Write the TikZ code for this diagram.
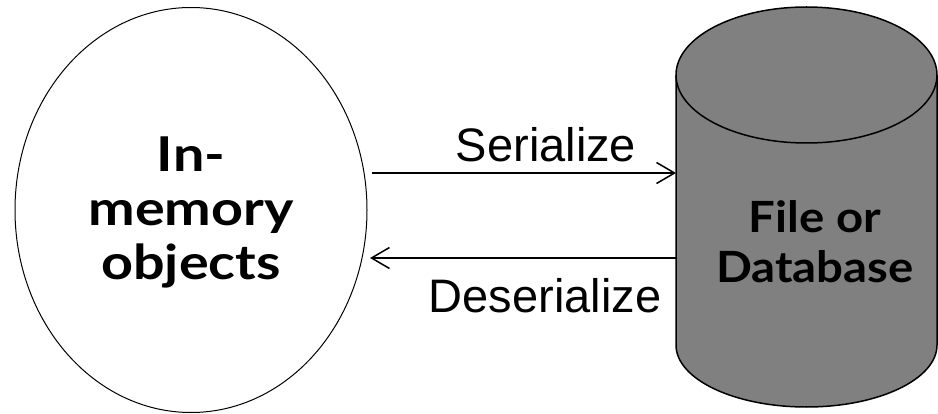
\documentclass[tikz,border=0pt]{standalone}
\usepackage{fontspec}
\setmainfont{Liberation Sans}
\newfontfamily\humanist{Lato}[FakeStretch=1.1]
\newfontfamily\humanistwide{Lato}[FakeStretch=1.16]
\usetikzlibrary{shapes.geometric,arrows.meta}
\definecolor{dbgray}{RGB}{128,128,128}
\tikzset{
  x=1pt, y=1pt,
  flow/.style={line width=1.5pt, -{Straight Barb[length=18pt,width=21pt,line width=1.5pt]}},
  flowlabel/.style={anchor=base, inner sep=0pt, font=\fontsize{47}{50}\selectfont},
  bigword/.style={align=center, inner sep=0pt, font=\bfseries}
}
\begin{document}
\begin{tikzpicture}
  \useasboundingbox (0,0) rectangle (938,413);

  % in-memory side
  \node[ellipse, draw, line width=1pt, minimum width=352pt, minimum height=405pt,
        inner sep=0pt] (mem) at (191,203) {};
  \node[bigword, font=\humanistwide\bfseries\fontsize{48}{54}\selectfont] (memtext) at (191,201)
    {In-\\memory\\objects};

  % storage cylinder
  \def\cx{806.5}\def\rx{130.5}
  \filldraw[fill=dbgray, line width=1.5pt]
    (\cx-\rx,338) -- (\cx-\rx,68) arc[start angle=180, end angle=360, x radius=\rx, y radius=62]
    -- (\cx+\rx,338) arc[start angle=0, end angle=180, x radius=\rx, y radius=68] -- cycle;
  \draw[line width=1.5pt] (\cx-\rx,338) arc[start angle=180, end angle=360, x radius=\rx, y radius=68];
  \coordinate (dbwest) at (\cx-\rx,203);
  \node[bigword, font=\humanist\bfseries\fontsize{43}{50}\selectfont] (db) at (815,171)
    {File or\\Database};

  % connectors
  \coordinate (serstart) at (372,240);
  \coordinate (desstart) at (dbwest |- 0,155);
  \draw[flow] (serstart) -- (serstart -| dbwest);
  \draw[flow] (desstart) -- (desstart -| 370,0);

  \node[flowlabel] (serlabel) at (546,251) {Serialize};
  \node[flowlabel] (deslabel) at (545,100) {Deserialize};
\end{tikzpicture}
\end{document}
